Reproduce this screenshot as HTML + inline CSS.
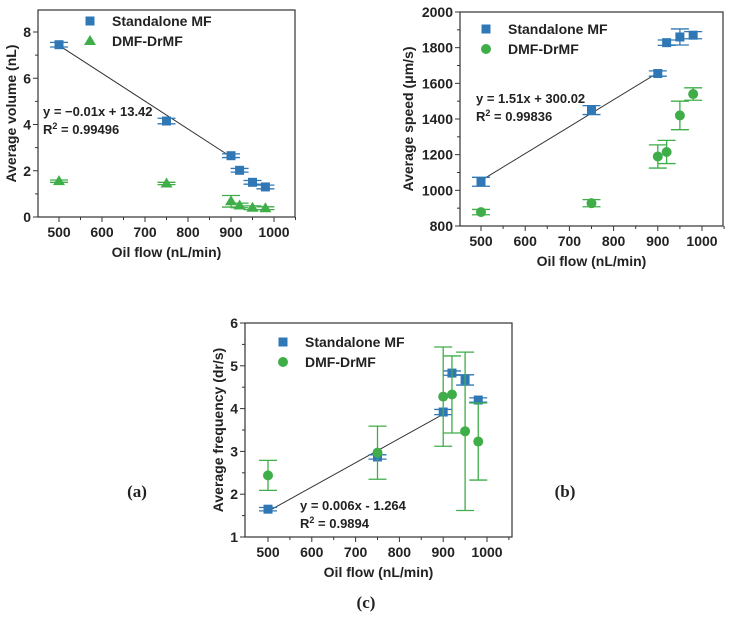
<!DOCTYPE html>
<html><head><meta charset="utf-8"><style>
body{margin:0;background:#fff;}
svg text{font-family:"Liberation Sans",Arial,sans-serif;font-weight:bold;fill:#222;}
</style></head><body>
<svg id="fig" width="731" height="620" viewBox="0 0 731 620" xmlns="http://www.w3.org/2000/svg"></svg>
<script>
const xCats=[500,750,900,920,950,980];
const volMF=[7.45,4.15,2.65,2.02,1.5,1.3];
const volMFerr=[0.1,0.12,0.08,0.08,0.08,0.08];
const volDMF=[1.55,1.45,0.68,0.5,0.4,0.38];
const volDMFerr=[0.05,0.05,0.25,0.1,0.08,0.06];
const volFit=[[500,7.42],[900,2.6]];
const spdMF=[1048,1450,1655,1828,1860,1870];
const spdMFerr=[25,25,15,15,45,20];
const spdDMF=[878,928,1190,1215,1420,1540];
const spdDMFerr=[15,20,65,65,80,35];
const spdFit=[[500,1055],[900,1659]];
const frqMF=[1.65,2.87,3.92,4.83,4.67,4.2];
const frqMFerr=[0.04,0.05,0.06,0.05,0.12,0.05];
const frqDMF=[2.44,2.97,4.28,4.33,3.47,3.23];
const frqDMFerr=[0.35,0.62,1.16,0.9,1.85,0.9];
const frqFit=[[500,1.6],[900,3.87]];
const xTicks=[500,600,700,800,900,1000];
const volTicks=[0,2,4,6,8];
const spdTicks=[800,1000,1200,1400,1600,1800,2000];
const frqTicks=[1,2,3,4,5,6];

const NS="http://www.w3.org/2000/svg";
const svg=document.getElementById('fig');
const BLUE="#2f78b5",GREEN="#3fae49";
function el(tag,attrs,parent,txt){const e=document.createElementNS(NS,tag);for(const k in attrs)e.setAttribute(k,attrs[k]);if(txt!==undefined)e.textContent=txt;(parent||svg).appendChild(e);return e;}

function panel(p){
  const g=el('g',{});
  
  
  const X=v=>p.x500+(v-500)*(p.x1000-p.x500)/500;
  const Y=v=>p.bottom-(v-p.ymin)*(p.bottom-p.top)/(p.ymax-p.ymin);
  const fr=el('rect',{x:p.left,y:p.top,width:p.right-p.left,height:p.bottom-p.top,fill:'none',stroke:'#333','stroke-width':1.2},g);
  
  
  xTicks.forEach(t=>{
    el('line',{x1:X(t),x2:X(t),y1:p.bottom,y2:p.bottom+5,stroke:'#333'},g);
    el('line',{x1:X(t+50),x2:X(t+50),y1:p.bottom,y2:p.bottom+3,stroke:'#333'},g);
    const l=el('text',{x:X(t),y:p.bottom+20,'text-anchor':'middle','font-size':14},g,String(t));
    
    
  });
  p.ticks.forEach((t,i)=>{
    el('line',{x1:p.left-5,x2:p.left,y1:Y(t),y2:Y(t),stroke:'#333'},g);
    if(i<p.ticks.length-1){const m=(t+p.ticks[i+1])/2;el('line',{x1:p.left-3,x2:p.left,y1:Y(m),y2:Y(m),stroke:'#333'},g);}
    const l=el('text',{x:p.left-7,y:Y(t)+5,'text-anchor':'end','font-size':14},g,String(t));
    
    
  });
  const xt=el('text',{x:(p.left+p.right)/2,y:p.bottom+40,'text-anchor':'middle','font-size':14},g,'Oil flow (nL/min)');
  
  
  const yc=(p.top+p.bottom)/2;
  const yt=el('text',{x:p.ytx,y:yc,'text-anchor':'middle','font-size':14,transform:`rotate(-90 ${p.ytx} ${yc})`},g);
  yt.innerHTML=p.ytitle;
  
  
  const fl=el('line',{x1:X(p.fit[0][0]),y1:Y(p.fit[0][1]),x2:X(p.fit[1][0]),y2:Y(p.fit[1][1]),stroke:'#333','stroke-width':1},g);
  
  
  function series(vals,errs,color,shape,nm){
    vals.forEach((v,i)=>{
      const cx=X(xCats[i]),cy=Y(v),e1=Y(v+errs[i]),e2=Y(v-errs[i]);
      const eb=el('path',{d:`M${cx},${e1}V${e2}M${cx-9},${e1}H${cx+9}M${cx-9},${e2}H${cx+9}`,stroke:color,'stroke-width':1.3,fill:'none'},g);
      
      
      let m;
      if(shape==='sq')m=el('rect',{x:cx-4.5,y:cy-4.5,width:9,height:9,fill:color},g);
      else if(shape==='ci')m=el('circle',{cx:cx,cy:cy,r:5,fill:color},g);
      else m=el('path',{d:`M${cx},${cy-6}L${cx+6},${cy+4}L${cx-6},${cy+4}Z`,fill:color},g);
      
      
    });
  }
  series(p.mf,p.mfe,BLUE,'sq','standalone-mf');
  series(p.dmf,p.dmfe,GREEN,p.shape,'dmf-drmf');
  const lg=el('g',{},g);
  
  
  el('rect',{x:p.lx-4.5,y:p.ly-4.5,width:9,height:9,fill:BLUE},lg);
  el('text',{x:p.lx+22,y:p.ly+5,'font-size':14},lg,'Standalone MF');
  const ly2=p.ly+20;
  if(p.shape==='ci')el('circle',{cx:p.lx,cy:ly2,r:5,fill:GREEN},lg);
  else el('path',{d:`M${p.lx},${ly2-6}L${p.lx+6},${ly2+4}L${p.lx-6},${ly2+4}Z`,fill:GREEN},lg);
  el('text',{x:p.lx+22,y:ly2+5,'font-size':14},lg,'DMF-DrMF');
  const eq=el('text',{x:p.ex,y:p.ey,'font-size':13},g,p.eq);
  
  
  const r2=el('text',{x:p.ex,y:p.ey+18,'font-size':13},g);
  r2.innerHTML=`R<tspan dy="-5" font-size="9">2</tspan><tspan dy="5"> = ${p.r2}</tspan>`;
  
  
  const cap=el('text',{x:p.cx,y:p.cy,'text-anchor':'middle','font-size':17,style:'font-family:"Liberation Serif",serif'},g);
  cap.innerHTML='(<tspan font-weight="bold">'+p.cap+'</tspan>)';
  
  
}
panel({name:'panel-a-volume',left:38,right:295,top:10,bottom:217,x500:59,x1000:274,ymin:0,ymax:8*(217-10)/(217-32),ticks:volTicks,
  ytitle:'Average volume (nL)',ytx:16,fit:volFit,mf:volMF,mfe:volMFerr,dmf:volDMF,dmfe:volDMFerr,shape:'tri',
  lx:90,ly:21,ex:43,ey:116,eq:'y = \u22120.01x + 13.42',r2:'0.99496',cx:137,cy:497,cap:'a'});
panel({name:'panel-b-speed',left:460,right:723,top:12,bottom:226,x500:481,x1000:702,ymin:800,ymax:2000,ticks:spdTicks,
  ytitle:'Average speed (\u03bcm/s)',ytx:413,fit:spdFit,mf:spdMF,mfe:spdMFerr,dmf:spdDMF,dmfe:spdDMFerr,shape:'ci',
  lx:486,ly:29,ex:476,ey:103,eq:'y = 1.51x + 300.02',r2:'0.99836',cx:565,cy:497,cap:'b'});
panel({name:'panel-c-frequency',left:245,right:512,top:323,bottom:537,x500:268,x1000:487,ymin:1,ymax:6,ticks:frqTicks,
  ytitle:'Average frequency (dr/s)',ytx:223,fit:frqFit,mf:frqMF,mfe:frqMFerr,dmf:frqDMF,dmfe:frqDMFerr,shape:'ci',
  lx:283,ly:342,ex:300,ey:510,eq:'y = 0.006x - 1.264',r2:'0.9894',cx:366,cy:608,cap:'c'});
</script>
</body></html>
